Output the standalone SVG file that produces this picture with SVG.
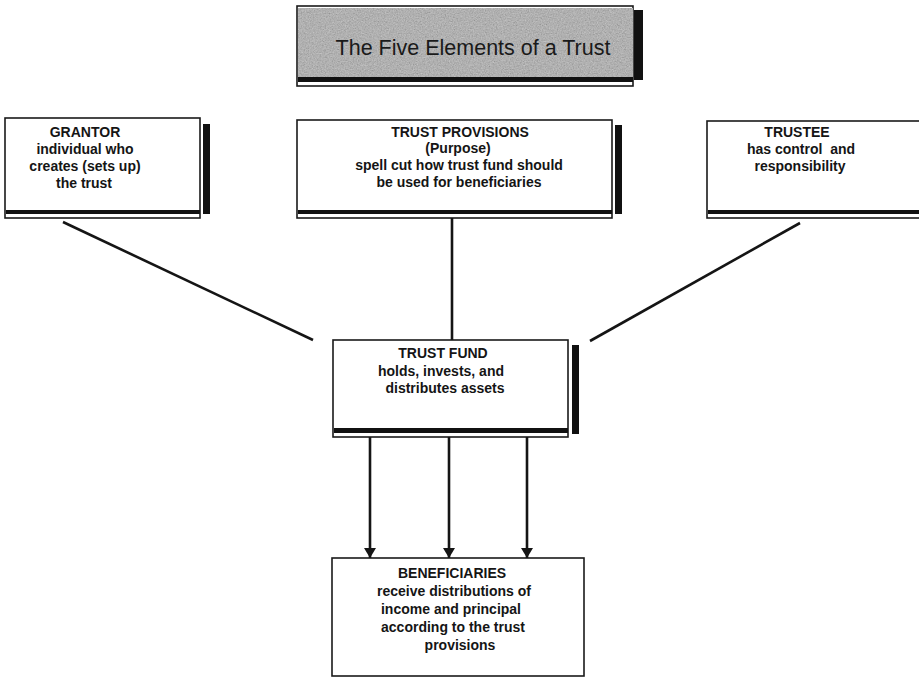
<svg xmlns="http://www.w3.org/2000/svg" width="919" height="678" viewBox="0 0 919 678">
<style>
.box{fill:#fff;stroke:#1a1a1a;stroke-width:1.6}
.band{fill:#111}
.t{font-family:"Liberation Sans",Arial,sans-serif;font-weight:bold;font-size:14px;text-anchor:middle;fill:#151515}
.title{font-family:"Liberation Sans",Arial,sans-serif;font-size:21.5px;text-anchor:middle;fill:#1a1a1a}
.conn{stroke:#151515;stroke-width:2.6;fill:none}
.arr{stroke:#151515;stroke-width:2.6;fill:none;marker-end:url(#ah)}
</style>
<defs>
<marker id="ah" viewBox="0 0 10 12" refX="10" refY="6" markerWidth="10" markerHeight="12" markerUnits="userSpaceOnUse" orient="auto">
<path d="M0,0 L10,6 L0,12 Z" fill="#151515"/>
</marker>
<filter id="grain" x="0" y="0" width="1" height="1">
<feTurbulence type="fractalNoise" baseFrequency="0.75" numOctaves="2" seed="4"/>
<feColorMatrix type="matrix" values="0.33 0.33 0.33 0 0  0.33 0.33 0.33 0 0  0.33 0.33 0.33 0 0  0 0 0 0 0.55"/>
</filter>
</defs>
<rect width="919" height="678" fill="#fff"/>

<g id="title">
<rect class="box" x="297" y="6" width="336" height="80"/>
<rect x="298" y="8" width="335" height="70" fill="#a3a3a3"/>
<rect x="298" y="8" width="335" height="70" filter="url(#grain)"/>
<rect class="band" x="298" y="77" width="335" height="5"/>
<rect class="band" x="634" y="10" width="9" height="70"/>
<text class="title" x="473" y="55">The Five Elements of a Trust</text>
</g>

<g id="grantor">
<rect class="box" x="5" y="118" width="195" height="100"/>
<rect class="band" x="6" y="210" width="194" height="4"/>
<rect class="band" x="203" y="124" width="7" height="90"/>
<text class="t" x="85" y="137">GRANTOR</text>
<text class="t" x="85" y="154">individual who</text>
<text class="t" x="85" y="171">creates (sets up)</text>
<text class="t" x="84" y="188">the trust</text>
</g>

<g id="provisions">
<rect class="box" x="297" y="120" width="315" height="98"/>
<rect class="band" x="298" y="210" width="314" height="4"/>
<rect class="band" x="615" y="125" width="7" height="89"/>
<text class="t" x="460" y="137">TRUST PROVISIONS</text>
<text class="t" x="458" y="153">(Purpose)</text>
<text class="t" x="459" y="170">spell cut how trust fund should</text>
<text class="t" x="459" y="187">be used for beneficiaries</text>
</g>

<g id="trustee">
<rect class="box" x="707" y="121" width="220" height="97"/>
<rect class="band" x="708" y="210" width="215" height="4"/>
<text class="t" x="797" y="137">TRUSTEE</text>
<text class="t" x="801" y="154" xml:space="preserve">has control  and</text>
<text class="t" x="800" y="171">responsibility</text>
</g>

<g id="fund">
<rect class="box" x="333" y="340" width="235" height="97"/>
<rect class="band" x="334" y="428" width="234" height="5"/>
<rect class="band" x="572" y="345" width="7" height="89"/>
<text class="t" x="443" y="358">TRUST FUND</text>
<text class="t" x="441" y="376">holds, invests, and</text>
<text class="t" x="445" y="393">distributes assets</text>
</g>

<g id="beneficiaries">
<rect class="box" x="332" y="558" width="252" height="118"/>
<text class="t" x="452" y="578">BENEFICIARIES</text>
<text class="t" x="454" y="596">receive distributions of</text>
<text class="t" x="451" y="614">income and principal</text>
<text class="t" x="453" y="632">according to the trust</text>
<text class="t" x="460" y="650">provisions</text>
</g>

<g id="connectors">
<line class="conn" x1="63" y1="222" x2="313" y2="340"/>
<line class="conn" x1="452" y1="218" x2="452" y2="340"/>
<line class="conn" x1="800" y1="223" x2="590" y2="341"/>
<line class="arr" x1="370" y1="437" x2="370" y2="558"/>
<line class="arr" x1="449" y1="437" x2="449" y2="558"/>
<line class="arr" x1="527" y1="437" x2="527" y2="558"/>
</g>
</svg>
